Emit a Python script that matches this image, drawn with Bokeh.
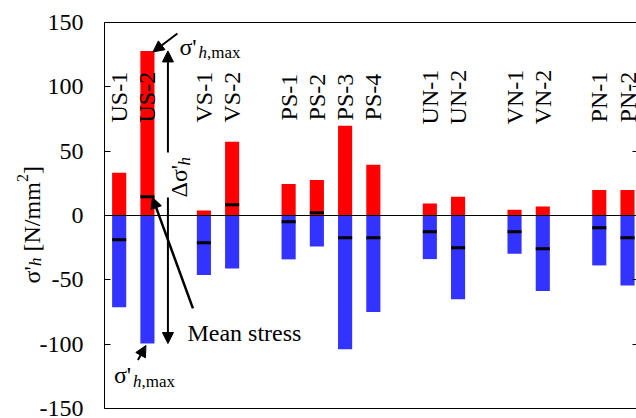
import math
from bokeh.plotting import figure
from bokeh.models import (Range1d, LinearAxis, FixedTicker, Label, Arrow,
                          NormalHead, ColumnDataSource)
from bokeh.core.properties import value
from bokeh.embed import file_html
from bokeh.resources import INLINE

# ---------------- data ----------------
groups = [["US-1", "US-2"], ["VS-1", "VS-2"], ["PS-1", "PS-2", "PS-3", "PS-4"],
          ["UN-1", "UN-2"], ["VN-1", "VN-2"], ["PN-1", "PN-2"]]
sigma_max = [33.3, 127.9, 3.9, 57.4, 24.5, 27.6, 69.8, 39.5, 9.3, 14.5, 4.4, 7.0, 19.9, 19.9]
sigma_min = [-71.3, -99.5, -46.3, -41.1, -34.1, -24.0, -103.9, -75.0, -33.9, -65.1,
             -29.7, -58.7, -38.8, -54.5]
sigma_mean = [-18.9, 14.5, -21.2, 8.3, -4.9, 2.1, -17.3, -17.3, -12.7, -25.1,
              -12.7, -25.8, -9.5, -17.3]
y_ticks = [-150, -100, -50, 0, 50, 100, 150]
y_tick_labels = ["-150", "-100", "-50", "0", "50", "100", "150"]

# category positions: one empty slot between groups
names, xs = [], []
pos = 0
for g in groups:
    for n in g:
        names.append(n)
        xs.append(pos)
        pos += 1
    pos += 1

FONT = "Liberation Serif"
W, H = 636, 418
# plotting box of the chart (in pixels) inside the canvas
BOX_L, BOX_T, BOX_B = 104, 22, 408
PX_X = 28.24                      # px per category slot
XA = -0.52                        # x value at the left axis
PX_Y = (BOX_B - BOX_T) / 300.0    # px per N/mm2
XS = XA - BOX_L / PX_X
XE = XS + W / PX_X
YE = 150 + BOX_T / PX_Y
YS = -150 - (H - BOX_B) / PX_Y

p = figure(width=W, height=H, output_backend="svg", toolbar_location=None,
           x_range=Range1d(XS, XE), y_range=Range1d(YS, YE),
           x_axis_location=None, y_axis_location=None,
           min_border_left=0, min_border_right=0, min_border_top=0, min_border_bottom=0)
p.outline_line_color = None
p.grid.visible = False
p.background_fill_color = "white"
p.border_fill_color = "white"

# left value axis (drawn at the box edge)
ya = LinearAxis(fixed_location=XA, bounds=(-150, 150), ticker=FixedTicker(ticks=y_ticks),
                major_label_overrides=dict(zip(y_ticks, y_tick_labels)),
                major_tick_in=6, major_tick_out=0, minor_tick_line_color=None,
                major_label_text_font=FONT, major_label_text_font_size="24px",
                major_label_text_color="black", major_label_standoff=21,
                axis_line_color="black", major_tick_line_color="black")
p.add_layout(ya, "left")

# right ticks only
ra = LinearAxis(fixed_location=XE, bounds=(-150, 150), ticker=FixedTicker(ticks=y_ticks),
                major_label_overrides={t: "" for t in y_ticks},
                major_label_standoff=0, major_tick_in=4, major_tick_out=0,
                minor_tick_line_color=None, axis_line_color=None,
                major_tick_line_color="black")
p.add_layout(ra, "right")

# top and bottom box lines
for loc, side in ((150, "above"), (-150, "below")):
    ax_ = LinearAxis(fixed_location=loc, bounds=(XA, XE), ticker=FixedTicker(ticks=[]),
                     major_label_standoff=0, major_tick_in=0, major_tick_out=0,
                     minor_tick_line_color=None, axis_line_color="black")
    p.add_layout(ax_, side)

src = ColumnDataSource(dict(x=xs, top=sigma_max, bottom=sigma_min, mean=sigma_mean, name=names))

p.vbar(x="x", top="top", bottom=0, width=0.5, fill_color="#FF0000", line_color=None, source=src)
p.vbar(x="x", top=0, bottom="bottom", width=0.5, fill_color="#3333FF", line_color=None, source=src)
p.segment(x0=XA, y0=0, x1=XE, y1=0, line_color="black", line_width=1)
p.rect(x="x", y="mean", width=0.5, height=3, height_units="screen",
       fill_color="black", line_color=None, source=src)

# category labels (vertical)
p.text(x="x", y=92, text="name", angle=math.pi / 2, text_align="center",
       text_baseline="middle", text_font=value(FONT), text_font_size="24px",
       text_color="black", source=src)


def dx(px):
    return px / PX_X


def dy(px):
    return px / PX_Y


def lab(x, y, text, size="24px", style="normal", angle=0.0):
    p.add_layout(Label(x=x, y=y, text=text, text_font=FONT, text_font_size=size,
                       text_font_style=style, text_color="black", angle=angle,
                       text_align="left", text_baseline="alphabetic"))


def arrow(xs_, ys_, xe, ye, lw=2):
    p.add_layout(Arrow(x_start=xs_, y_start=ys_, x_end=xe, y_end=ye, line_width=lw,
                       line_color="black", start=None,
                       end=NormalHead(size=11, fill_color="black", line_color="black",
                                      line_width=1)))


i2 = 1  # US-2
bx = xs[i2]

# sigma'_h,max (top)
tx, ty = bx + dx(32), sigma_max[i2] + dy(3.5)
lab(tx, ty, "σ'")
lab(tx + dx(19), ty - dy(5), "h", "17px", "italic")
lab(tx + dx(27.5), ty - dy(5), ",max", "17px")
arrow(bx + dx(30), sigma_max[i2] + dy(17.5), bx + dx(5.5), sigma_max[i2] - dy(1))

# sigma'_h,max (bottom)
bx2, by2 = bx - dx(33.5), sigma_min[i2] - dy(31.5)
lab(bx2, by2, "σ'")
lab(bx2 + dx(19), by2 - dy(6), "h", "17px", "italic")
lab(bx2 + dx(27.5), by2 - dy(6), ",max", "17px")
arrow(bx - dx(9.5), sigma_min[i2] - dy(16.5), bx - dx(1.5), sigma_min[i2] - dy(2))

# delta sigma double arrow with gap for label
ax = bx + dx(20.5)
gap_top, gap_bot = dy(63), dy(18)
arrow(ax, gap_top, ax, sigma_max[i2])
arrow(ax, gap_bot, ax, sigma_min[i2])
lab(ax + dx(11.5), gap_bot, "Δσ'", angle=math.pi / 2)
lab(ax + dx(16.5), gap_bot + dy(32), "h", "17px", "italic", angle=math.pi / 2)

# Mean stress
lab(bx + dx(40), sigma_mean[i2] - dy(136), "Mean stress")
arrow(bx + dx(45.5), sigma_mean[i2] - dy(111.5), bx + dx(5), sigma_mean[i2] - dy(0.5), lw=2.5)

# y axis title (rotated, composite): σ'_h [N/mm^2]
yx = XS + dx(31)
yy = -dy(68)
lab(yx, yy, "σ'", angle=math.pi / 2)
lab(yx + dx(4), yy + dy(17.5), "h", "17px", "italic", angle=math.pi / 2)
lab(yx, yy + dy(32), "[N/mm", angle=math.pi / 2)
lab(yx - dx(9), yy + dy(101.5), "2", "16px", angle=math.pi / 2)
lab(yx, yy + dy(109.5), "]", angle=math.pi / 2)

open("out.html", "w").write(file_html(p, INLINE))
